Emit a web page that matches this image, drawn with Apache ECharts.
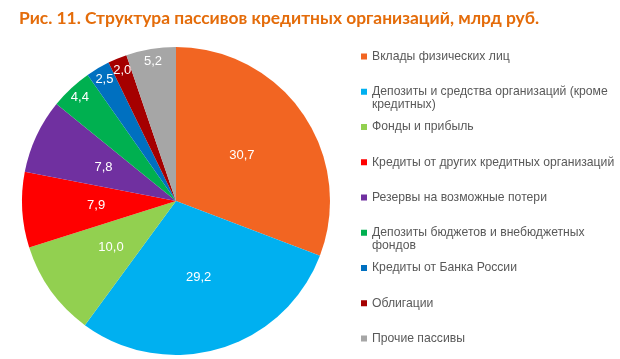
<!DOCTYPE html>
<html><head><meta charset="utf-8">
<script src="https://cdn.jsdelivr.net/npm/echarts@6/dist/echarts.min.js"></script>
<style>html,body{margin:0;padding:0;background:#fff}#c{width:620px;height:359px}</style>
</head><body><div id="c"></div>
<script>
const titleText = 'Рис. 11. Структура пассивов кредитных организаций, млрд руб.';
const categories = [
  'Вклады физических лиц',
  'Депозиты и средства организаций (кроме кредитных)',
  'Фонды и прибыль',
  'Кредиты от других кредитных организаций',
  'Резервы на возможные потери',
  'Депозиты бюджетов и внебюджетных фондов',
  'Кредиты от Банка России',
  'Облигации',
  'Прочие пассивы'
];
const values = [30.7, 29.2, 10.0, 7.9, 7.8, 4.4, 2.5, 2.0, 5.2];
const colors = ['#F26522', '#00B0F0', '#92D050', '#FF0000', '#7030A0', '#00B050', '#0070C0', '#A50000', '#A6A6A6'];
const outerLabelIdx = [5, 6, 7, 8];

const legendFontSize = 12.2;
const legendLineH = 13;
const legendMaxWidth = 245;
const legendTop = 45;
const legendStep = 35.25;
const markerSize = 6;
const ctx = document.createElement('canvas').getContext('2d');
ctx.font = legendFontSize + 'px "Liberation Sans", Arial, sans-serif';
function wrapLines(name) {
  const words = name.split(' ');
  const lines = [];
  let cur = '';
  words.forEach(w => {
    const t = cur ? cur + ' ' + w : w;
    if (cur && ctx.measureText(t).width > legendMaxWidth) { lines.push(cur); cur = w; }
    else cur = t;
  });
  lines.push(cur);
  return lines;
}

const legends = categories.map((n, i) => {
  const nLines = wrapLines(n).length;
  // icon box sized so the square marker sits beside the first text line
  const h = legendLineH * nLines - (legendLineH - markerSize);
  return {
    orient: 'vertical', left: 356, top: legendTop + i * legendStep,
    itemWidth: markerSize, itemHeight: h,
    data: [{ name: n, icon: 'path://M0,0h6v6h-6zM0,' + h + 'h0.01' }],
    formatter: s => wrapLines(s).join('\n'),
    textStyle: { color: '#595959', fontSize: legendFontSize, fontFamily: 'Liberation Sans, Arial, sans-serif',
      lineHeight: legendLineH }
  };
});

const fmt = p => p.value.toFixed(1).replace('.', ',');
const labelStyle = { color: '#fff', fontSize: 13, fontFamily: 'Liberation Sans, Arial, sans-serif' };

const chart = echarts.init(document.getElementById('c'), null, { renderer: 'canvas' });
chart.setOption({
  animation: false,
  color: colors,
  title: {
    text: titleText, left: 14, top: 5,
    textStyle: { color: '#E46C0A', fontSize: 17.4, fontWeight: 'bold', fontFamily: 'Lato, sans-serif' }
  },
  legend: legends,
  series: [
    {
      type: 'pie', radius: 154, center: [176, 201], startAngle: 90, clockwise: true,
      silent: true,
      data: categories.map((n, i) => ({ name: n, value: values[i], itemStyle: { color: colors[i] },
        label: { show: outerLabelIdx.indexOf(i) < 0 } })),
      label: Object.assign({ position: 'inside', formatter: fmt }, labelStyle),
      labelLine: { show: false },
      emphasis: { disabled: true }
    },
    {
      type: 'pie', radius: [100, 176], center: [176, 201], startAngle: 90, clockwise: true,
      silent: true, z: 3,
      labelLayout: { hideOverlap: false },
      data: categories.map((n, i) => ({ name: n, value: values[i], itemStyle: { color: 'rgba(0,0,0,0)' },
        label: { show: outerLabelIdx.indexOf(i) >= 0 } })),
      label: Object.assign({ position: 'inside', formatter: fmt }, labelStyle),
      labelLine: { show: false },
      emphasis: { disabled: true }
    }
  ]
});
</script></body></html>
